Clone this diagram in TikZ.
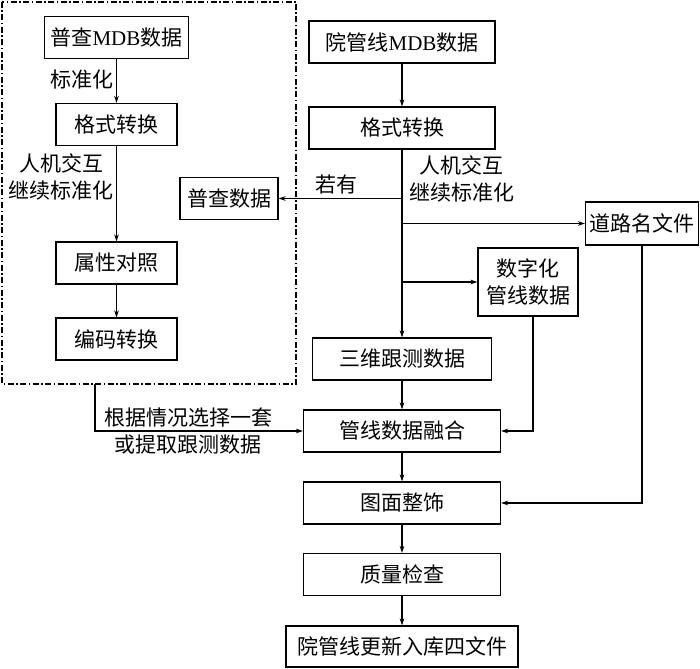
\documentclass[tikz,border=0pt]{standalone}
\usepackage{fontspec}
\setmainfont{Noto Sans CJK SC}
\newfontfamily\latinfont{Liberation Serif}
\usetikzlibrary{calc,arrows.meta}
\tikzset{
	box/.style={draw, line width=1.1pt, inner sep=0pt, minimum height=42pt, font=\fontsize{21}{27}\selectfont, align=center},
	flow/.style={line width=1.1pt, -{Stealth[length=7pt,width=4.5pt]}},
	groupline/.style={line width=1.1pt, dash pattern=on 6pt off 2.5pt on 1.5pt off 2.5pt},
	note/.style={font=\fontsize{21}{27}\selectfont, align=center, inner sep=0pt}
}

\begin{document}
\begin{tikzpicture}[x=1pt,y=-1pt]
				\useasboundingbox (0,0) rectangle (700,668);
				\draw[groupline] (2,2) rectangle (296,384);
				\node[box, minimum width=144pt] (pcmdb) at (116.5,37.5) {普查{\latinfont MDB}数据};
				\node[box, minimum width=121pt] (geshia) at (116.5,124.5) {格式转换};
				\node[box, minimum width=121pt] (shuxing) at (116.5,263) {属性对照};
				\node[box, minimum width=121pt] (bianma) at (116.5,339) {编码转换};
				\node[box, minimum width=98pt] (pucha) at (229,198.5) {普查数据};
				\node[box, minimum width=186pt] (ygmdb) at (402,42) {院管线{\latinfont MDB}数据};
				\node[box, minimum width=186pt] (geshib) at (402,128) {格式转换};
				\node[box, minimum width=113pt, minimum height=43pt] (daolu) at (642,223.5) {道路名文件};
				\node[box, minimum width=100pt, minimum height=68pt] (shuzi) at (528,282) {数字化\\管线数据};
				\node[box, minimum width=179pt] (sanwei) at (402,359) {三维跟测数据};
				\node[box, minimum width=197pt] (ronghe) at (402,431) {管线数据融合};
				\node[box, minimum width=197pt] (zhengshi) at (402,503) {图面整饰};
				\node[box, minimum width=197pt] (jiancha) at (402,574.5) {质量检查};
				\node[box, minimum width=232pt, minimum height=41pt] (ruku) at (402,646.5) {院管线更新入库四文件};
				\coordinate (ruoyou) at (geshib.south |- pucha.east);
				\coordinate (zuxia) at (95,384);
				\draw[flow] (pcmdb) -- (geshia);
				\draw[flow] (geshia) -- (shuxing);
				\draw[flow] (shuxing) -- (bianma);
				\draw[flow] (ygmdb) -- (geshib);
				\draw[flow] (geshib) -- (sanwei);
				\draw[flow] (ruoyou) -- (pucha.east);
				\draw[flow] (geshib.south |- daolu.west) -- (daolu.west);
				\draw[flow] (geshib.south |- shuzi.west) -- (shuzi.west);
				\draw[flow] (sanwei) -- (ronghe);
				\draw[flow] ([xshift=5pt]shuzi.south) |- (ronghe.east);
				\draw[flow] (daolu.south) |- (zhengshi.east);
				\draw[flow] (zuxia) |- (ronghe.west);
				\draw[flow] (ronghe) -- (zhengshi);
				\draw[flow] (zhengshi) -- (jiancha);
				\draw[flow] (jiancha) -- (ruku);
				\node[note, anchor=east] (biaozhun) at (114,80) {标准化};
				\node[note, anchor=east] (jiaohua) at (114,177) {人机交互\\继续标准化};
				\node[note, anchor=west] (jiaohub) at (409,179) {人机交互\\继续标准化};
				\node[note] (ruoyoulbl) at (336,185) {若有};
				\node[note] (xuanze) at (188,431) {根据情况选择一套\\或提取跟测数据};
			\end{tikzpicture}
\end{document}
